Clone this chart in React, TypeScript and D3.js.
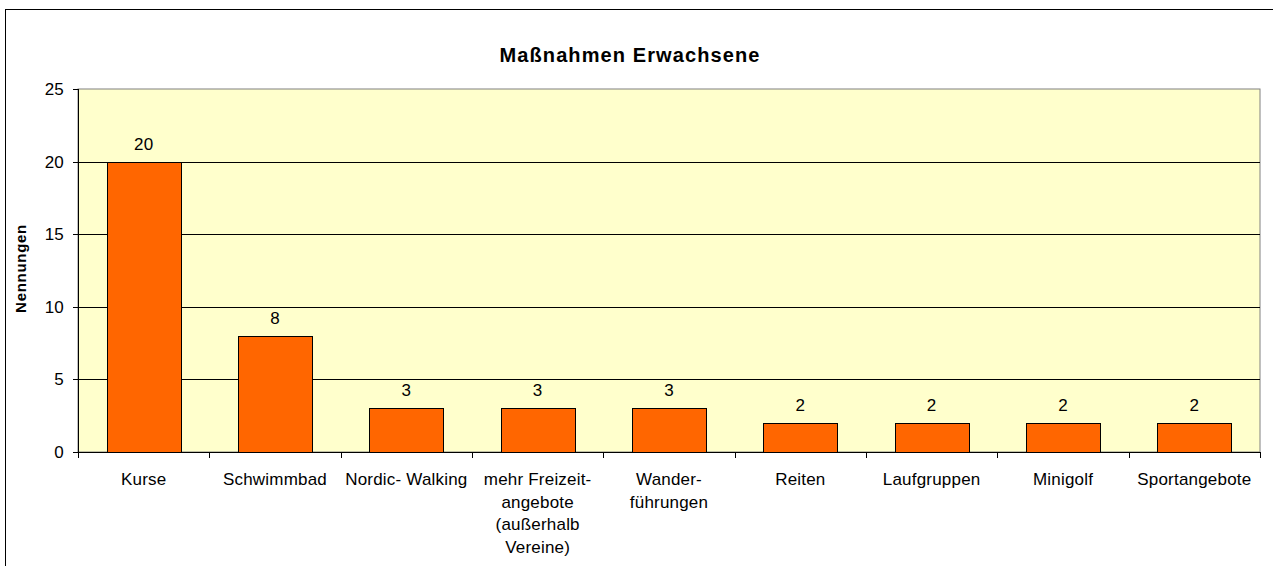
import React from "react";
import * as d3 from "d3";

const title = "Maßnahmen Erwachsene";
const yTitle = "Nennungen";
const categories: string[][] = [
  ["Kurse"],
  ["Schwimmbad"],
  ["Nordic- Walking"],
  ["mehr Freizeit-", "angebote", "(außerhalb", "Vereine)"],
  ["Wander-", "führungen"],
  ["Reiten"],
  ["Laufgruppen"],
  ["Minigolf"],
  ["Sportangebote"],
];
const values = [20, 8, 3, 3, 3, 2, 2, 2, 2];
const yTicks = [0, 5, 10, 15, 20, 25];

const W = 1273;
const H = 566;
const L = 78, R = 1260, T = 89, B = 452;
const FONT = "Arial, 'Liberation Sans', sans-serif";
const FS = 17;
const LS = 0.2;

export default function App() {
  const keys = categories.map((_, i) => String(i));
  const x = d3.scaleBand<string>().domain(keys).range([L, R]).paddingInner(0.435).paddingOuter(0.2175);
  const y = d3.scaleLinear().domain([0, 25]).range([B, T]);
  const step = x.step();
  return (
    <svg width={W} height={H} style={{ position: "absolute", left: 0, top: 0, background: "#fff" }}>
      <rect x={5.5} y={9.5} width={W + 10} height={H + 10} fill="#fff" stroke="#000" strokeWidth={1} />
      <text x={630} y={62} textAnchor="middle" fontFamily={FONT} fontWeight="bold" fontSize={20} letterSpacing={1.1}>{title}</text>
      <rect x={L} y={T} width={R - L} height={B - T} fill="#FFFFCC" stroke="#808080" strokeWidth={1} />
      {yTicks.filter(t => t > 0 && t < 25).map(t => (
        <line key={t} x1={L} x2={R} y1={Math.round(y(t)) + 0.5} y2={Math.round(y(t)) + 0.5} stroke="#000" strokeWidth={1} />
      ))}
      {yTicks.map(t => (
        <g key={"yt" + t}>
          <line x1={L - 5} x2={L} y1={Math.round(y(t)) + 0.5} y2={Math.round(y(t)) + 0.5} stroke="#000" />
          <text x={64} y={y(t) + 6} textAnchor="end" fontFamily={FONT} fontSize={FS} letterSpacing={LS}>{t}</text>
        </g>
      ))}
      <line x1={L + 0.5} x2={L + 0.5} y1={T} y2={B} stroke="#000" />
      <line x1={L} x2={R} y1={B + 0.5} y2={B + 0.5} stroke="#000" />
      {d3.range(categories.length + 1).map(i => {
        const xx = Math.round(L + i * step) + 0.5;
        return <line key={"xt" + i} x1={xx} x2={xx} y1={B} y2={B + 6} stroke="#000" />;
      })}
      {values.map((v, i) => {
        const bx = x(String(i))!;
        const bw = x.bandwidth();
        return (
          <g key={"b" + i}>
            <rect x={Math.round(bx) + 0.5} y={Math.round(y(v)) + 0.5} width={Math.round(bw)} height={Math.round(y(0)) - Math.round(y(v))} fill="#FF6600" stroke="#000" strokeWidth={1} />
            <text x={bx + bw / 2} y={y(v) - 12} textAnchor="middle" fontFamily={FONT} fontSize={FS} letterSpacing={LS}>{v}</text>
          </g>
        );
      })}
      {categories.map((lines, i) => {
        const cx = x(String(i))! + x.bandwidth() / 2;
        return (
          <text key={"c" + i} textAnchor="middle" fontFamily={FONT} fontSize={FS} letterSpacing={LS}>
            {lines.map((ln, j) => (
              <tspan key={j} x={cx} y={485 + j * 22.5}>{ln}</tspan>
            ))}
          </text>
        );
      })}
      <text transform={`translate(26,${(T + B) / 2 - 2}) rotate(-90)`} textAnchor="middle" fontFamily={FONT} fontWeight="bold" fontSize={15} letterSpacing={0.7}>{yTitle}</text>
    </svg>
  );
}
